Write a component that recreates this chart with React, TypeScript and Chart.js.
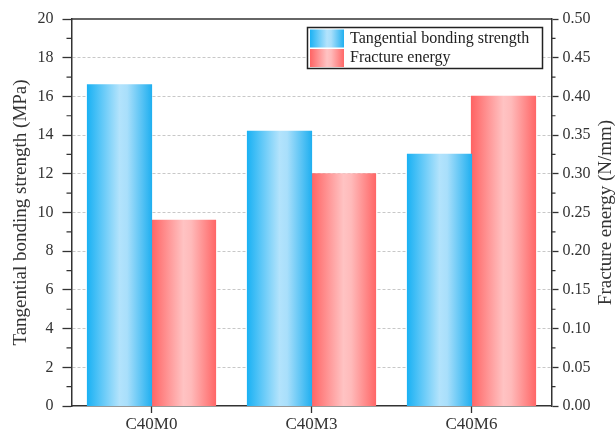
import React, { useEffect, useRef } from "react";
import { Chart, registerables } from "chart.js";

Chart.register(...registerables);

const categories = ["C40M0", "C40M3", "C40M6"];
const strengthLabel = "Tangential bonding strength";
const energyLabel = "Fracture energy";
const strengthValues = [16.6, 14.2, 13.0];
const energyValues = [0.24, 0.3, 0.4];
const leftTitle = "Tangential bonding strength (MPa)";
const rightTitle = "Fracture energy (N/mm)";

const CAT_PCT = 0.8;
const BAR_PCT = 1.0;
const FONT = "'Liberation Serif', 'Times New Roman', serif";
const AXIS = "#333333";

const blueStops: [number, string][] = [
  [0, "#1cb2f4"],
  [0.5, "#b3e3fc"],
  [0.62, "#a9dffb"],
  [1, "#22b0f0"],
];
const redStops: [number, string][] = [
  [0, "#ff6464"],
  [0.5, "#ffc3c3"],
  [0.62, "#ffbaba"],
  [1, "#ff6868"],
];

function grad(c: CanvasRenderingContext2D, left: number, w: number, stops: [number, string][]) {
  const g = c.createLinearGradient(left, 0, left + w, 0);
  stops.forEach(([o, col]) => g.addColorStop(o, col));
  return g;
}

function barFill(stops: [number, string][], dsIndex: number) {
  return (ctx: any) => {
    const chart = ctx.chart;
    const x = chart.scales?.x;
    if (!x || ctx.dataIndex === undefined || !chart.chartArea) return stops[0][1];
    const center = x.getPixelForValue(ctx.dataIndex);
    const cat = x.width / categories.length;
    const w = (cat * CAT_PCT * BAR_PCT) / 2;
    const left = dsIndex === 0 ? center - w : center;
    return grad(chart.ctx, left, w, stops);
  };
}

const decorPlugin = {
  id: "decor",
  afterDraw(chart: any) {
    const { ctx, chartArea } = chart;
    const y = chart.scales.y;
    const y1 = chart.scales.y1;
    ctx.save();
    // top frame line
    ctx.strokeStyle = AXIS;
    ctx.lineWidth = 1.5;
    ctx.beginPath();
    ctx.moveTo(chartArea.left, chartArea.top);
    ctx.lineTo(chartArea.right, chartArea.top);
    ctx.stroke();
    // minor ticks
    ctx.lineWidth = 1.2;
    ctx.beginPath();
    for (let v = 1; v < 20; v += 2) {
      const p = y.getPixelForValue(v);
      ctx.moveTo(chartArea.left - 5, p);
      ctx.lineTo(chartArea.left, p);
    }
    for (let i = 0; i < 10; i++) {
      const v = 0.025 + i * 0.05;
      const p = y1.getPixelForValue(v);
      ctx.moveTo(chartArea.right, p);
      ctx.lineTo(chartArea.right + 4, p);
    }
    ctx.stroke();
    // right title
    ctx.fillStyle = AXIS;
    ctx.font = `19px ${FONT}`;
    ctx.textAlign = "center";
    ctx.textBaseline = "middle";
    ctx.translate(606, (chartArea.top + chartArea.bottom) / 2);
    ctx.rotate(-Math.PI / 2);
    ctx.fillText(rightTitle, 0, 0);
    ctx.restore();

    // legend
    ctx.save();
    const lx = 307.5, ly = 27.5, lw = 235, lh = 41;
    ctx.fillStyle = "#ffffff";
    ctx.fillRect(lx, ly, lw, lh);
    ctx.strokeStyle = "#222222";
    ctx.lineWidth = 1.5;
    ctx.strokeRect(lx, ly, lw, lh);
    const sx = 310, sw = 34;
    ctx.fillStyle = grad(ctx, sx, sw, blueStops);
    ctx.fillRect(sx, 29.5, sw, 18);
    ctx.fillStyle = grad(ctx, sx, sw, redStops);
    ctx.fillRect(sx, 49, sw, 18);
    ctx.fillStyle = "#222222";
    ctx.font = `16px ${FONT}`;
    ctx.textAlign = "left";
    ctx.textBaseline = "middle";
    ctx.fillText(strengthLabel, 350, 38.5);
    ctx.fillText(energyLabel, 350, 58);
    ctx.restore();
  },
};

export default function App() {
  const ref = useRef<HTMLCanvasElement | null>(null);
  useEffect(() => {
    if (!ref.current) return;
    const chart = new Chart(ref.current, {
      type: "bar",
      data: {
        labels: categories,
        datasets: [
          {
            label: strengthLabel,
            data: strengthValues,
            yAxisID: "y",
            backgroundColor: barFill(blueStops, 0) as any,
            borderWidth: 0,
            inflateAmount: 0.6,
            categoryPercentage: CAT_PCT,
            barPercentage: BAR_PCT,
          },
          {
            label: energyLabel,
            data: energyValues,
            yAxisID: "y1",
            backgroundColor: barFill(redStops, 1) as any,
            borderWidth: 0,
            inflateAmount: 0.6,
            categoryPercentage: CAT_PCT,
            barPercentage: BAR_PCT,
          },
        ],
      },
      options: {
        animation: false,
        responsive: true,
        maintainAspectRatio: false,
        layout: { padding: { top: 19, left: 0, right: 0, bottom: 0 } },
        plugins: { legend: { display: false }, tooltip: { enabled: false } },
        scales: {
          x: {
            offset: true,
            afterFit: (s: any) => { s.height = 28; },
            grid: {
              offset: false,
              drawOnChartArea: false,
              tickLength: 7,
              tickColor: AXIS,
              tickWidth: 1.3,
            },
            border: { color: AXIS, width: 1.5 },
            ticks: { color: AXIS, font: { family: FONT, size: 17 }, padding: 1, maxRotation: 0 },
          },
          y: {
            position: "left",
            min: 0,
            max: 20,
            afterFit: (s: any) => { s.width = 71.5; },
            ticks: { stepSize: 2, color: AXIS, font: { family: FONT, size: 16 }, padding: 9 },
            grid: {
              color: (c: any) => (c.tick && (c.tick.value === 0 || c.tick.value === 20) ? "rgba(0,0,0,0)" : "#c8c8c8"),
              lineWidth: 1,
              tickLength: 9,
              tickColor: AXIS,
              tickWidth: 1.3,
              tickBorderDash: [],
            },
            border: { color: AXIS, width: 1.5, dash: [3, 2] },
            title: {
              display: true,
              text: leftTitle,
              color: AXIS,
              font: { family: FONT, size: 19 },
              padding: { top: 10, bottom: 0 },
            },
          },
          y1: {
            position: "right",
            min: 0,
            max: 0.5,
            afterFit: (s: any) => { s.width = 64.5; },
            ticks: {
              stepSize: 0.05,
              color: AXIS,
              font: { family: FONT, size: 16 },
              padding: 4,
              callback: (v: any) => Number(v).toFixed(2),
            },
            grid: {
              drawOnChartArea: false,
              tickLength: 7,
              tickColor: AXIS,
              tickWidth: 1.3,
            },
            border: { color: AXIS, width: 1.5 },
          },
        },
      },
      plugins: [decorPlugin],
    });
    return () => chart.destroy();
  }, []);
  return (
    <div style={{ position: "fixed", left: 0, top: 0, width: 616, height: 434, background: "#fff" }}>
      <canvas ref={ref} />
    </div>
  );
}
